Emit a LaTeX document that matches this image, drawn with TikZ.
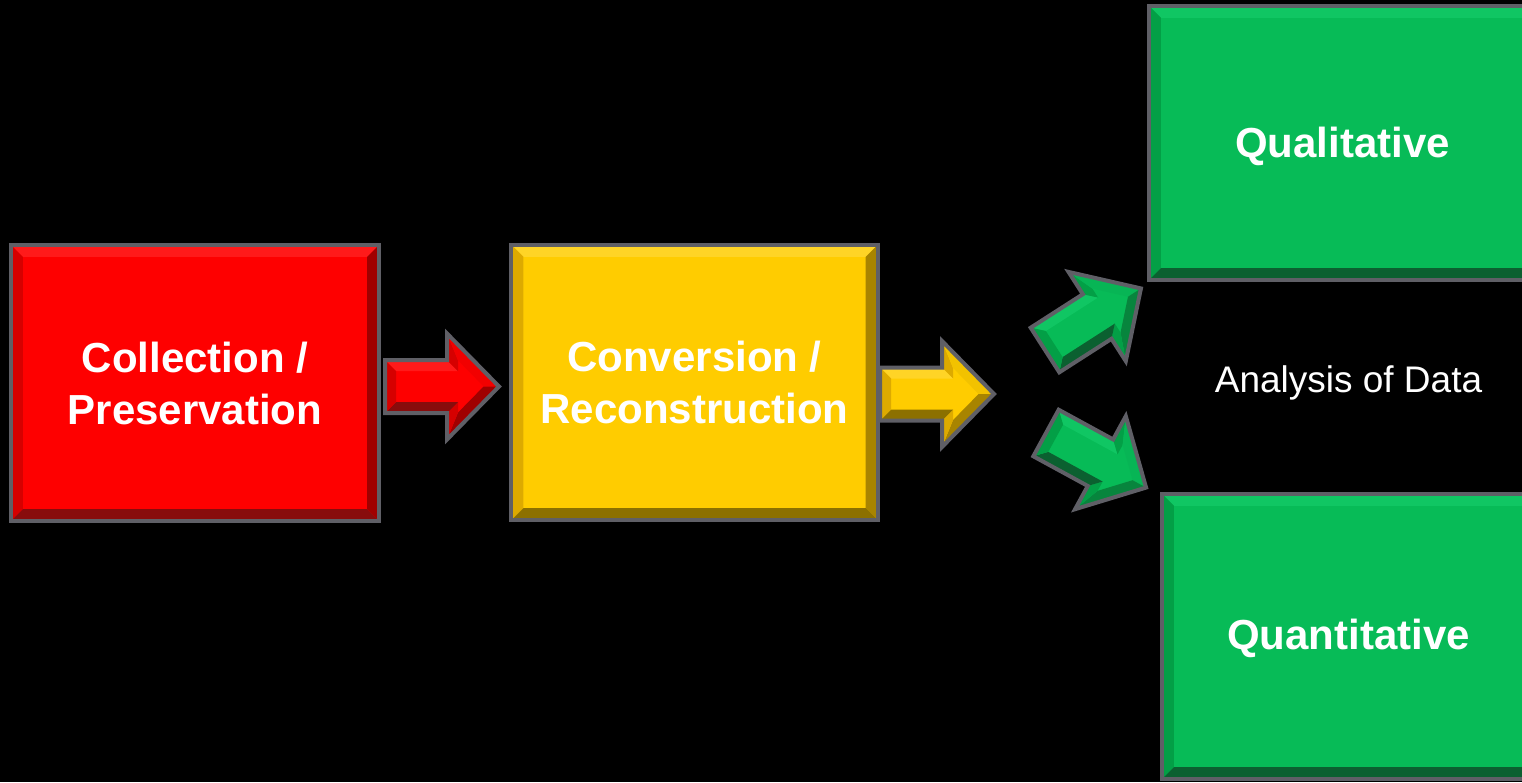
\documentclass[tikz,border=0pt]{standalone}
\usepackage{fontspec}
\setmainfont{Liberation Sans}
\usetikzlibrary{calc}
\definecolor{bordc}{HTML}{5F5F66}
% red set
\definecolor{RM}{HTML}{FE0000}\definecolor{RT}{HTML}{FF1A1A}\definecolor{RL}{HTML}{D60000}
\definecolor{RR}{HTML}{A00000}\definecolor{RB}{HTML}{880C0C}\definecolor{RH}{HTML}{F20000}
% yellow set
\definecolor{YM}{HTML}{FFCC00}\definecolor{YT}{HTML}{FFD426}\definecolor{YL}{HTML}{DDAA00}
\definecolor{YR}{HTML}{A88400}\definecolor{YB}{HTML}{8C7000}\definecolor{YH}{HTML}{F2C200}
% green set
\definecolor{GM}{HTML}{07BB57}\definecolor{GT}{HTML}{10C663}\definecolor{GL}{HTML}{039F46}
\definecolor{GR}{HTML}{07853D}\definecolor{GB}{HTML}{0B6030}\definecolor{GH}{HTML}{07B555}
\tikzset{
  border/.style={draw=bordc, line width=4pt, line join=miter},
  blockbox/.style={rectangle, inner sep=0pt, text=white, align=center,
    font=\fontsize{42}{52}\selectfont\bfseries},
  boldtext/.style={inner sep=0pt, text=white, font=\fontsize{42}{52}\selectfont\bfseries},
  plaintext/.style={text=white, inner sep=0pt, font=\fontsize{37}{44}\selectfont},
}
\newcommand\bevbox[3]{%
  \fill[#2T] (#1.north west) -- (#1.north east) -- ($(#1.north east)+(-#3,#3)$) -- ($(#1.north west)+(#3,#3)$) -- cycle;
  \fill[#2L] (#1.north west) -- ($(#1.north west)+(#3,#3)$) -- ($(#1.south west)+(#3,-#3)$) -- (#1.south west) -- cycle;
  \fill[#2R] (#1.north east) -- ($(#1.north east)+(-#3,#3)$) -- ($(#1.south east)+(-#3,-#3)$) -- (#1.south east) -- cycle;
  \fill[#2B] (#1.south west) -- ($(#1.south west)+(#3,-#3)$) -- ($(#1.south east)+(-#3,-#3)$) -- (#1.south east) -- cycle;
  \draw[border] (#1.north west) rectangle (#1.south east);%
}
\newcommand\bevarrow[4]{%
  \begin{scope}[shift={#3}, rotate=#4]
    \coordinate (#2a1) at (0,-26.5);
    \coordinate (#2a2) at (62,-26.5);
    \coordinate (#2a3) at (62,-53);
    \coordinate (#2a4) at (114,0);
    \coordinate (#2a5) at (62,53);
    \coordinate (#2a6) at (62,26.5);
    \coordinate (#2a7) at (0,26.5);
    \coordinate (#2b1) at (11,-15.5);
    \coordinate (#2b2) at (73,-15.5);
    \coordinate (#2b3) at (73,-26.1);
    \coordinate (#2b4) at (98.6,0);
    \coordinate (#2b5) at (73,26.1);
    \coordinate (#2b6) at (73,15.5);
    \coordinate (#2b7) at (11,15.5);
    \fill[#1M] (#2a1) -- (#2a2) -- (#2a3) -- (#2a4) -- (#2a5) -- (#2a6) -- (#2a7) -- cycle;
    \fill[#1T] (#2a1) -- (#2a2) -- (#2b2) -- (#2b1) -- cycle;
    \fill[#1L] (#2a2) -- (#2a3) -- (#2b3) -- (#2b2) -- cycle;
    \fill[#1H] (#2a3) -- (#2a4) -- (#2b4) -- (#2b3) -- cycle;
    \fill[#1R] (#2a4) -- (#2a5) -- (#2b5) -- (#2b4) -- cycle;
    \fill[#1L] (#2a5) -- (#2a6) -- (#2b6) -- (#2b5) -- cycle;
    \fill[#1B] (#2a6) -- (#2a7) -- (#2b7) -- (#2b6) -- cycle;
    \fill[#1L] (#2a7) -- (#2a1) -- (#2b1) -- (#2b7) -- cycle;
    \draw[border] (#2a1) -- (#2a2) -- (#2a3) -- (#2a4) -- (#2a5) -- (#2a6) -- (#2a7) -- cycle;
  \end{scope}%
}
\begin{document}
\begin{tikzpicture}[x=1pt, y=-1pt]
  \fill[black] (0,0) rectangle (1522,782);
  \useasboundingbox (0,0) rectangle (1522,782);
  \clip (0,0) rectangle (1522,782);

  % boxes
  \node[blockbox, fill=RM, minimum width=368pt, minimum height=276pt] (col) at (195,383) {Collection /\\Preservation};
  \bevbox{col}{R}{12}
  \node[blockbox, fill=YM, minimum width=366pt, minimum height=275pt] (conv) at (694.5,382.5) {Conversion /\\Reconstruction};
  \bevbox{conv}{Y}{12}
  \node[blockbox, fill=GM, minimum width=391pt, minimum height=274pt] (qual) at (1344.5,143) {};
  \bevbox{qual}{G}{12}
  \node[boldtext, anchor=base] (qualtext) at (1342.5,157) {Qualitative};
  \node[blockbox, fill=GM, minimum width=378pt, minimum height=285pt] (quant) at (1351,636.5) {};
  \bevbox{quant}{G}{12}
  \node[boldtext, anchor=base] (quanttext) at (1348.5,649) {Quantitative};

  % label
  \node[plaintext, anchor=base] (ana) at (1348.5,392) {Analysis of Data};

  % block arrows
  \bevarrow{R}{ra}{(385,386.5)}{0}
  \bevarrow{Y}{ya}{(880,394)}{0}
  \bevarrow{G}{ga}{(1045,350)}{32.7}
  \bevarrow{G}{gb}{(1046,433)}{-28.6}
\end{tikzpicture}
\end{document}
